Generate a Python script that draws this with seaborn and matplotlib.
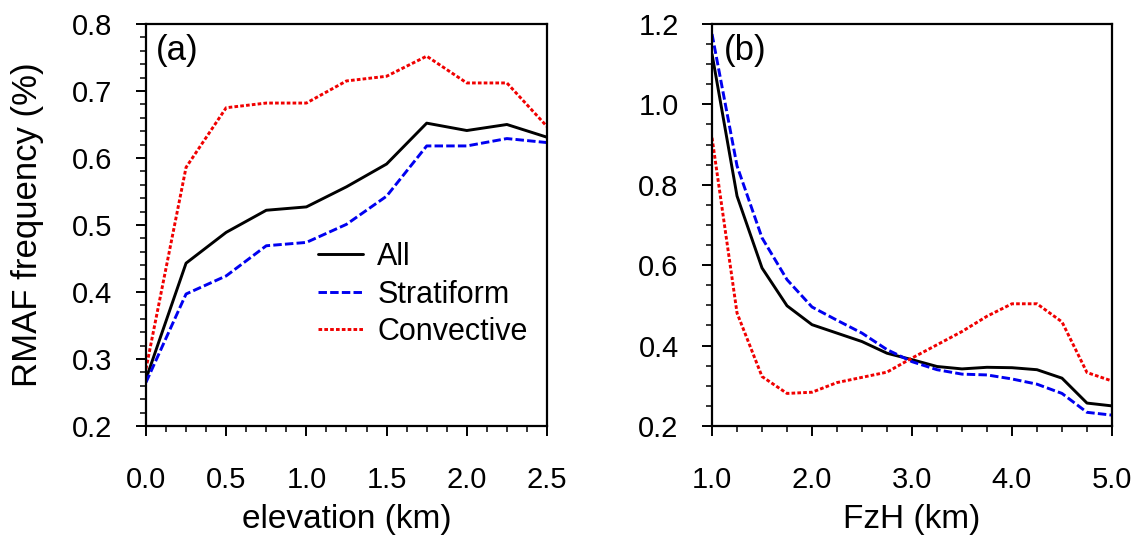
import numpy as np
import pandas as pd
import matplotlib
matplotlib.use("Agg")
import matplotlib.pyplot as plt
import seaborn as sns
from matplotlib.ticker import MultipleLocator, FormatStrFormatter

# Panel (a) data
elev = [0.0, 0.25, 0.5, 0.75, 1.0, 1.25, 1.5, 1.75, 2.0, 2.25, 2.5]
a_all = [0.270, 0.443, 0.489, 0.522, 0.527, 0.557, 0.591, 0.652, 0.641, 0.650, 0.631]
a_strat = [0.265, 0.397, 0.424, 0.469, 0.474, 0.501, 0.543, 0.618, 0.618, 0.629, 0.623]
a_conv = [0.285, 0.586, 0.675, 0.682, 0.682, 0.715, 0.722, 0.752, 0.712, 0.712, 0.647]

# Panel (b) data
fzh = [1.0, 1.25, 1.5, 1.75, 2.0, 2.25, 2.5, 2.75, 3.0, 3.25, 3.5, 3.75, 4.0, 4.25, 4.5, 4.75, 5.0]
b_all = [1.125, 0.772, 0.593, 0.499, 0.452, 0.431, 0.410, 0.381, 0.365, 0.348, 0.342, 0.346, 0.345, 0.340, 0.319, 0.257, 0.250]
b_strat = [1.175, 0.847, 0.668, 0.564, 0.496, 0.463, 0.431, 0.390, 0.360, 0.340, 0.329, 0.327, 0.317, 0.304, 0.281, 0.234, 0.227]
b_conv = [0.917, 0.481, 0.323, 0.281, 0.284, 0.308, 0.321, 0.334, 0.369, 0.402, 0.435, 0.473, 0.504, 0.504, 0.459, 0.333, 0.312]

series_names = ["All", "Stratiform", "Convective"]
colors = {"All": "black", "Stratiform": "#0000f0", "Convective": "#f00000"}
dashes = {"All": "-", "Stratiform": (0, (2.9, 1.1)), "Convective": (0, (1.25, 0.75))}

sns.set_theme(style="white")
plt.rcParams["font.family"] = ["Liberation Sans", "DejaVu Sans"]
plt.rcParams["text.color"] = "black"
plt.rcParams["axes.labelcolor"] = "black"
plt.rcParams["xtick.color"] = "black"
plt.rcParams["ytick.color"] = "black"

fig = plt.figure(figsize=(11.42, 5.38), dpi=100)
axa = fig.add_axes([0.1278, 0.2082, 0.3512, 0.7472])
axb = fig.add_axes([0.6235, 0.2082, 0.3502, 0.7472])

def draw(ax, x, ys):
    for name, y in zip(series_names, ys):
        df = pd.DataFrame({"x": x, "y": y})
        sns.lineplot(data=df, x="x", y="y", ax=ax, color=colors[name],
                     linestyle=dashes[name], linewidth=2.1, label=name)

draw(axa, elev, [a_all, a_strat, a_conv])
draw(axb, fzh, [b_all, b_strat, b_conv])

axa.set_xlim(0, 2.5)
axa.set_ylim(0.2, 0.8)
axa.xaxis.set_major_locator(MultipleLocator(0.5))
axa.xaxis.set_minor_locator(MultipleLocator(0.125))
axa.yaxis.set_major_locator(MultipleLocator(0.1))
axa.yaxis.set_minor_locator(MultipleLocator(0.02))

axb.set_xlim(1.0, 5.0)
axb.set_ylim(0.2, 1.2)
axb.xaxis.set_major_locator(MultipleLocator(1.0))
axb.xaxis.set_minor_locator(MultipleLocator(0.25))
axb.yaxis.set_major_locator(MultipleLocator(0.2))
axb.yaxis.set_minor_locator(MultipleLocator(0.05))

for ax in (axa, axb):
    ax.xaxis.set_major_formatter(FormatStrFormatter("%.1f"))
    ax.yaxis.set_major_formatter(FormatStrFormatter("%.1f"))
    for s in ax.spines.values():
        s.set_color("black")
        s.set_linewidth(1.6)
        s.set_visible(True)
    ax.tick_params(which="major", direction="out", length=7, width=1.4,
                   labelsize=21, bottom=True, left=True, top=False, right=False)
    ax.tick_params(which="minor", direction="out", length=4, width=1.1,
                   bottom=True, left=True, top=False, right=False)
    ax.tick_params(axis="x", which="major", pad=22)
    ax.tick_params(axis="y", which="major", pad=17)
    ax.grid(False)

axa.set_xlabel("elevation (km)", fontsize=24, labelpad=7)
axa.set_ylabel("RMAF frequency (%)", fontsize=25, labelpad=20)
axb.set_xlabel("FzH (km)", fontsize=24, labelpad=7)
axb.set_ylabel("")

axa.text(0.025, 0.975, "(a)", transform=axa.transAxes, fontsize=25,
         va="top", ha="left")
axb.text(0.03, 0.975, "(b)", transform=axb.transAxes, fontsize=25,
         va="top", ha="left")

leg = axa.legend(loc="center left", bbox_to_anchor=(0.428, 0.327), frameon=False,
                 fontsize=22, handlelength=1.5, handletextpad=0.45,
                 labelspacing=0.25, borderaxespad=0, borderpad=0)
axb.get_legend().remove()

fig.savefig("out.png", dpi=100)
